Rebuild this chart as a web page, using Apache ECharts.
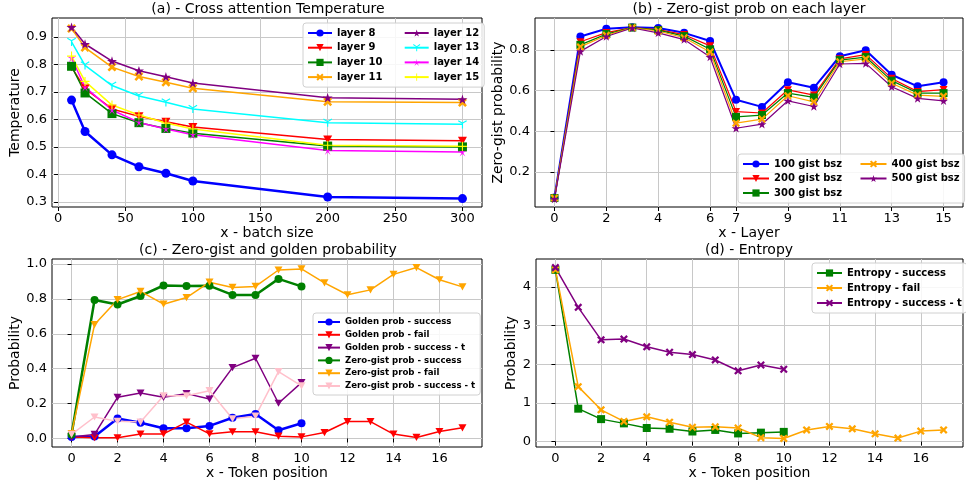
<!DOCTYPE html>
<html>
<head>
<meta charset="utf-8">
<script src="https://cdn.jsdelivr.net/npm/echarts@6/dist/echarts.min.js"></script>
<style>
html, body { margin: 0; padding: 0; background: #fff; }
#main { width: 966px; height: 486px; }
</style>
</head>
<body>
<div id="main"></div>
<script>
// (a) 温度
var batchSize = [10, 20, 40, 60, 80, 100, 200, 300]
var layer8 = [0.670, 0.556, 0.471, 0.428, 0.404, 0.376, 0.318, 0.312]
var layer9 = [0.790, 0.712, 0.638, 0.611, 0.591, 0.572, 0.527, 0.522]
var layer10 = [0.793, 0.696, 0.621, 0.588, 0.567, 0.550, 0.503, 0.500]
var layer11 = [0.930, 0.861, 0.790, 0.756, 0.735, 0.713, 0.664, 0.661]
var layer12 = [0.935, 0.874, 0.812, 0.777, 0.755, 0.732, 0.679, 0.673]
var layer13 = [0.882, 0.796, 0.723, 0.685, 0.662, 0.638, 0.588, 0.582]
var layer14 = [0.823, 0.717, 0.634, 0.589, 0.565, 0.544, 0.487, 0.481]
var layer15 = [0.830, 0.738, 0.652, 0.616, 0.587, 0.565, 0.506, 0.502]

// (b) 每层 zero-gist 概率
var layerIdx = [0, 1, 2, 3, 4, 5, 6, 7, 8, 9, 10, 11, 12, 13, 14, 15]
var bsz100 = [0.075, 0.866, 0.904, 0.912, 0.908, 0.884, 0.844, 0.555, 0.520, 0.641, 0.614, 0.769, 0.798, 0.678, 0.621, 0.641]
var bsz200 = [0.072, 0.840, 0.885, 0.910, 0.900, 0.875, 0.820, 0.497, 0.490, 0.604, 0.578, 0.756, 0.777, 0.660, 0.595, 0.605]
var bsz300 = [0.072, 0.825, 0.878, 0.910, 0.897, 0.868, 0.803, 0.471, 0.480, 0.588, 0.567, 0.750, 0.765, 0.649, 0.588, 0.588]
var bsz400 = [0.072, 0.815, 0.872, 0.909, 0.893, 0.860, 0.790, 0.440, 0.460, 0.575, 0.545, 0.742, 0.756, 0.636, 0.578, 0.572]
var bsz500 = [0.068, 0.793, 0.866, 0.908, 0.884, 0.851, 0.765, 0.415, 0.435, 0.550, 0.522, 0.731, 0.734, 0.619, 0.562, 0.550]
var layerTicks = [0, 2, 4, 6, 7, 9, 11, 13, 15]

// (c) zero-gist / golden 概率
var tokenPos = [0, 1, 2, 3, 4, 5, 6, 7, 8, 9, 10, 11, 12, 13, 14, 15, 16, 17]
var goldenSuccess = [0.008, 0.011, 0.115, 0.090, 0.058, 0.058, 0.072, 0.119, 0.140, 0.047, 0.087]
var goldenFail = [0.008, 0.004, 0.004, 0.025, 0.026, 0.094, 0.026, 0.038, 0.038, 0.013, 0.009, 0.034, 0.097, 0.097, 0.025, 0.006, 0.040, 0.061]
var goldenSuccessT = [0.009, 0.023, 0.236, 0.260, 0.236, 0.257, 0.226, 0.406, 0.460, 0.202, 0.320]
var zeroSuccess = [0.023, 0.794, 0.768, 0.817, 0.877, 0.874, 0.875, 0.823, 0.823, 0.915, 0.872]
var zeroFail = [0.028, 0.653, 0.796, 0.843, 0.770, 0.808, 0.896, 0.866, 0.872, 0.966, 0.972, 0.892, 0.824, 0.852, 0.941, 0.980, 0.910, 0.869]
var zeroSuccessT = [0.023, 0.123, 0.098, 0.094, 0.245, 0.245, 0.274, 0.113, 0.128, 0.383, 0.302]

// (d) 熵
var entSuccess = [4.44, 0.85, 0.58, 0.47, 0.35, 0.33, 0.26, 0.30, 0.21, 0.23, 0.25]
var entFail = [4.44, 1.42, 0.82, 0.52, 0.64, 0.50, 0.37, 0.38, 0.35, 0.10, 0.08, 0.30, 0.39, 0.33, 0.20, 0.09, 0.27, 0.30]
var entSuccessT = [4.50, 3.47, 2.63, 2.65, 2.45, 2.31, 2.25, 2.11, 1.83, 1.98, 1.87]

var tempTicks = [0.3, 0.4, 0.5, 0.6, 0.7, 0.8, 0.9]
var bszTicks = [0, 50, 100, 150, 200, 250, 300]
var tokenTicks = [0, 2, 4, 6, 8, 10, 12, 14, 16]

var FONT = 'DejaVu Sans'
var GRID_COLOR = '#c8c8c8'

// 标记形状
var SYM = {
    circle: 'circle',
    tri: 'path://M0,0 L10,0 L5,9 Z',
    square: 'rect',
    xfill: 'path://M0,2 L2,0 L5,3 L8,0 L10,2 L7,5 L10,8 L8,10 L5,7 L2,10 L0,8 L3,5 Z',
    star: 'path://M50,0 L61,35 L98,35 L68,57 L79,91 L50,70 L21,91 L32,57 L2,35 L39,35 Z',
    triDown: 'path://M4.4,5 L4.4,10 L5.6,10 L5.6,5 L9.6,2.6 L9,1.6 L5,4 L1,1.6 L0.4,2.6 Z',
    thinStar: 'path://M50,0 L55,40 L95,31 L58,52 L79,91 L50,62 L21,91 L42,52 L5,31 L45,40 Z',
    plus: 'path://M4.4,0 L5.6,0 L5.6,4.4 L10,4.4 L10,5.6 L5.6,5.6 L5.6,10 L4.4,10 L4.4,5.6 L0,5.6 L0,4.4 L4.4,4.4 Z'
}

function pairs (xs, ys) {
    return ys.map(function (v, i) { return [xs[i], v] })
}

function line (name, idx, xs, ys, color, symbol, size, width) {
    return {
        name: name,
        type: 'line',
        xAxisIndex: idx,
        yAxisIndex: idx,
        data: pairs(xs, ys),
        symbol: SYM[symbol],
        symbolSize: size,
        symbolKeepAspect: true,
        showSymbol: true,
        animation: false,
        color: color,
        itemStyle: { color: color, borderWidth: 0 },
        lineStyle: { color: color, width: width },
        emphasis: { disabled: true }
    }
}

function xAxis (idx, min, max, ticks, name, nameGap) {
    return {
        type: 'value',
        gridIndex: idx,
        min: min,
        max: max,
        name: name,
        nameLocation: 'middle',
        nameGap: nameGap,
        nameTextStyle: { fontFamily: FONT, fontSize: 14, color: '#000' },
        axisLine: { show: false },
        axisTick: { show: true, length: 4, customValues: ticks, lineStyle: { color: '#000' } },
        axisLabel: { customValues: ticks, margin: 5, fontFamily: FONT, fontSize: 13, color: '#000' },
        splitLine: { show: true, lineStyle: { color: GRID_COLOR, width: 1 } }
    }
}

function yAxis (idx, min, max, ticks, name, nameGap, digits) {
    return {
        type: 'value',
        gridIndex: idx,
        min: min,
        max: max,
        name: name,
        nameLocation: 'middle',
        nameGap: nameGap,
        nameTextStyle: { fontFamily: FONT, fontSize: 14, color: '#000' },
        axisLine: { show: false },
        axisTick: { show: true, length: 4, customValues: ticks, lineStyle: { color: '#000' } },
        axisLabel: {
            customValues: ticks, margin: 5, fontFamily: FONT, fontSize: 13, color: '#000',
            formatter: function (v) { return v.toFixed(digits) }
        },
        splitLine: { show: true, lineStyle: { color: GRID_COLOR, width: 1 } }
    }
}

// 图例: names 为第一列名称, names2 为第二列名称, colWidth 为第一列文字宽度
function legend (names, names2, colWidth, left, top, height, fontSize, lineH, iconW, gap) {
    var data = names.map(function (n) {
        return colWidth ? { name: n, textStyle: { width: colWidth } } : n
    }).concat(names2)
    return {
        data: data,
        orient: 'vertical',
        left: left,
        top: top,
        height: height,
        itemWidth: iconW,
        itemHeight: 9,
        itemGap: gap,
        padding: [4, 5, 4, 4],
        backgroundColor: 'rgba(255,255,255,0.85)',
        borderColor: '#d0d0d0',
        borderWidth: 1,
        borderRadius: 3,
        selectedMode: false,
        textStyle: { fontFamily: FONT, fontWeight: 'bold', fontSize: fontSize, lineHeight: lineH, color: '#000' }
    }
}

function title (text, x, y) {
    return {
        type: 'text',
        x: x,
        y: y,
        style: { text: text, fontFamily: FONT, fontSize: 14, fill: '#000', textAlign: 'center', textVerticalAlign: 'middle' }
    }
}

function grid (left, top, width, height) {
    return {
        left: left, top: top, width: width, height: height,
        show: true, borderColor: '#000', borderWidth: 1, backgroundColor: '#fff'
    }
}

var option = {
    animation: false,
    backgroundColor: '#fff',
    grid: [
        grid(52, 18, 430, 189),
        grid(535, 18, 428, 189),
        grid(52, 259, 430, 188),
        grid(536, 259, 427, 188)
    ],
    xAxis: [
        xAxis(0, -4.5, 314.5, bszTicks, 'x - batch size', 18),
        xAxis(1, -0.75, 15.75, layerTicks, 'x - Layer', 18),
        xAxis(2, -0.85, 17.85, tokenTicks, 'x - Token position', 19),
        xAxis(3, -0.85, 17.85, tokenTicks, 'x - Token position', 19)
    ],
    yAxis: [
        yAxis(0, 0.2815, 0.9685, tempTicks, 'Temperature', 29, 1),
        yAxis(1, 0.028, 0.957, [0.2, 0.4, 0.6, 0.8], 'Zero-gist probability', 27, 1),
        yAxis(2, -0.049, 1.029, [0, 0.2, 0.4, 0.6, 0.8, 1.0], 'Probability', 29, 1),
        yAxis(3, -0.141, 4.721, [0, 1, 2, 3, 4], 'Probability', 18, 0)
    ],
    legend: [
        legend(['layer 8', 'layer 9', 'layer 10', 'layer 11'], ['layer 12', 'layer 13', 'layer 14', 'layer 15'],
            64, 303, 23, 62, 10, 12, 24, 2.7),
        legend(['100 gist bsz', '200 gist bsz', '300 gist bsz'], ['400 gist bsz', '500 gist bsz'],
            83, 738, 154, 44, 10, 12, 26, 2.5),
        legend(['Golden prob - success', 'Golden prob - fail', 'Golden prob - success - t',
            'Zero-gist prob - success', 'Zero-gist prob - fail', 'Zero-gist prob - success - t'], [],
            0, 313, 313, 84, 8.6, 10, 22, 2.8),
        legend(['Entropy - success', 'Entropy - fail', 'Entropy - success - t'], [],
            0, 812, 263, 50, 10, 12, 25, 3)
    ],
    graphic: [
        title('(a) - Cross attention Temperature', 268, 9),
        title('(b) - Zero-gist prob on each layer', 749, 9),
        title('(c) - Zero-gist and golden probability', 268, 250),
        title('(d) - Entropy', 749, 250)
    ],
    series: [
        line('layer 8', 0, batchSize, layer8, '#0000ff', 'circle', 9, 2.5),
        line('layer 9', 0, batchSize, layer9, '#ff0000', 'tri', 9, 1.5),
        line('layer 10', 0, batchSize, layer10, '#008000', 'square', 9, 1.5),
        line('layer 11', 0, batchSize, layer11, '#ffa500', 'xfill', 9, 1.5),
        line('layer 12', 0, batchSize, layer12, '#800080', 'star', 10, 1.5),
        line('layer 13', 0, batchSize, layer13, '#00ffff', 'triDown', 9, 1.5),
        line('layer 14', 0, batchSize, layer14, '#ff00ff', 'thinStar', 9, 1.5),
        line('layer 15', 0, batchSize, layer15, '#ffff00', 'plus', 9, 1.5),

        line('100 gist bsz', 1, layerIdx, bsz100, '#0000ff', 'circle', 8, 2),
        line('200 gist bsz', 1, layerIdx, bsz200, '#ff0000', 'tri', 8, 1.2),
        line('300 gist bsz', 1, layerIdx, bsz300, '#008000', 'square', 8, 1.2),
        line('400 gist bsz', 1, layerIdx, bsz400, '#ffa500', 'xfill', 8, 1.2),
        line('500 gist bsz', 1, layerIdx, bsz500, '#800080', 'star', 9, 1.2),

        line('Golden prob - success', 2, tokenPos, goldenSuccess, '#0000ff', 'circle', 8, 2.5),
        line('Golden prob - fail', 2, tokenPos, goldenFail, '#ff0000', 'tri', 8, 1.5),
        line('Golden prob - success - t', 2, tokenPos, goldenSuccessT, '#800080', 'tri', 8, 1.5),
        line('Zero-gist prob - success', 2, tokenPos, zeroSuccess, '#008000', 'circle', 8, 2.5),
        line('Zero-gist prob - fail', 2, tokenPos, zeroFail, '#ffa500', 'tri', 8, 1.5),
        line('Zero-gist prob - success - t', 2, tokenPos, zeroSuccessT, '#ffc0cb', 'tri', 8, 1.5),

        line('Entropy - success', 3, tokenPos, entSuccess, '#008000', 'square', 8, 1.5),
        line('Entropy - fail', 3, tokenPos, entFail, '#ffa500', 'xfill', 8, 1.5),
        line('Entropy - success - t', 3, tokenPos, entSuccessT, '#800080', 'xfill', 8, 1.5)
    ]
}

var myChart = echarts.init(document.getElementById('main'))
myChart.setOption(option)
</script>
</body>
</html>
